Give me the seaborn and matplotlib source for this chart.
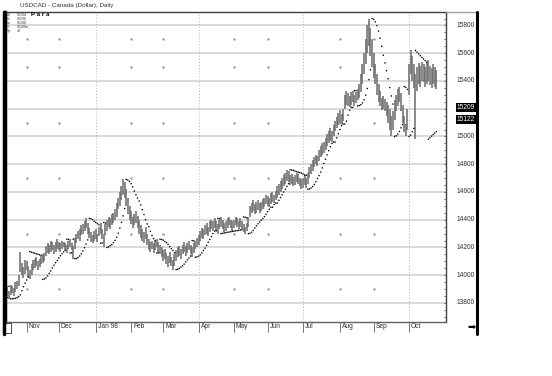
import numpy as np
import pandas as pd
import seaborn as sns
import matplotlib.pyplot as plt
import matplotlib.transforms as mtrans
from matplotlib.lines import Line2D

# daily bars, USDCAD x 10000, weekdays from 15 Oct 1997
dates = pd.bdate_range("1997-10-15", periods=269)

lows = [13840, 13850, 13830, 13860, 13870, 13850, 13880, 13900, 13920, 14020,
        14000, 13980, 14010, 14040, 13990, 13970, 14000, 14040, 14050, 14070,
        14040, 14060, 14080, 14090, 14100, 14140, 14160, 14150, 14170, 14180,
        14150, 14170, 14190, 14180, 14170, 14190, 14200, 14180, 14160, 14190,
        14200, 14180, 14120, 14190, 14230, 14260, 14250, 14290, 14300, 14320,
        14340, 14300, 14270, 14240, 14230, 14250, 14260, 14240, 14280, 14300,
        14260, 14200, 14290, 14320, 14350, 14330, 14360, 14380, 14400, 14420,
        14480, 14500, 14540, 14580, 14560, 14500, 14440, 14400, 14370, 14340,
        14360, 14380, 14340, 14300, 14270, 14250, 14230, 14260, 14220, 14180,
        14170, 14190, 14160, 14180, 14200, 14170, 14150, 14130, 14100, 14120,
        14080, 14060, 14090, 14070, 14040, 14070, 14100, 14130, 14140, 14120,
        14150, 14170, 14140, 14160, 14180, 14150, 14130, 14160, 14190, 14200,
        14220, 14250, 14270, 14260, 14290, 14300, 14280, 14310, 14330, 14320,
        14340, 14320, 14300, 14330, 14350, 14330, 14310, 14320, 14340, 14360,
        14340, 14320, 14340, 14360, 14350, 14330, 14350, 14330, 14310, 14300,
        14320, 14350, 14420, 14450, 14460, 14440, 14450, 14470, 14450, 14460,
        14480, 14490, 14510, 14500, 14490, 14510, 14530, 14520, 14540, 14560,
        14580, 14600, 14620, 14640, 14660, 14680, 14670, 14650, 14660, 14640,
        14650, 14670, 14660, 14640, 14620, 14630, 14650, 14630, 14660, 14700,
        14730, 14750, 14780, 14800, 14790, 14820, 14850, 14870, 14880, 14900,
        14930, 14950, 14970, 14960, 15000, 15040, 15060, 15080, 15100, 15090,
        15110, 15200, 15230, 15220, 15210, 15230, 15250, 15220, 15240, 15260,
        15280, 15320, 15380, 15450, 15520, 15600, 15650, 15580, 15500, 15420,
        15380, 15300, 15250, 15220, 15190, 15200, 15180, 15150, 15100, 15050,
        15000, 15050, 15120, 15180, 15220, 15250, 15180, 15100, 15030, 15000,
        15050, 15300, 15450, 15400, 15350, 14980, 15330, 15380, 15360, 15400,
        15390, 15360, 15380, 15400, 15370, 15350, 15380, 15360, 15340]

highs = [13900, 13920, 13890, 13930, 13920, 13910, 13950, 13960, 14000, 14170,
         14090, 14060, 14110, 14100, 14070, 14040, 14080, 14110, 14120, 14130,
         14100, 14120, 14140, 14150, 14160, 14210, 14230, 14220, 14250, 14240,
         14220, 14240, 14260, 14240, 14230, 14250, 14240, 14230, 14220, 14250,
         14260, 14230, 14210, 14270, 14300, 14320, 14330, 14360, 14370, 14390,
         14410, 14380, 14340, 14310, 14290, 14320, 14330, 14300, 14350, 14380,
         14330, 14300, 14370, 14400, 14420, 14410, 14440, 14450, 14480, 14520,
         14560, 14600, 14640, 14690, 14670, 14620, 14560, 14500, 14460, 14420,
         14440, 14460, 14430, 14400, 14360, 14330, 14310, 14350, 14300, 14260,
         14240, 14250, 14230, 14250, 14260, 14240, 14220, 14200, 14180, 14190,
         14160, 14140, 14170, 14130, 14110, 14150, 14180, 14200, 14210, 14190,
         14220, 14240, 14210, 14230, 14250, 14220, 14200, 14230, 14250, 14270,
         14290, 14320, 14340, 14330, 14360, 14380, 14350, 14390, 14400, 14390,
         14410, 14390, 14370, 14400, 14420, 14400, 14380, 14390, 14410, 14420,
         14400, 14390, 14400, 14420, 14410, 14390, 14410, 14390, 14370, 14350,
         14380, 14420, 14500, 14520, 14540, 14510, 14530, 14540, 14520, 14530,
         14550, 14560, 14580, 14570, 14560, 14590, 14600, 14580, 14610, 14640,
         14660, 14680, 14700, 14720, 14740, 14760, 14750, 14720, 14730, 14710,
         14720, 14740, 14730, 14700, 14690, 14700, 14720, 14700, 14740, 14780,
         14800, 14830, 14850, 14870, 14860, 14900, 14930, 14950, 14960, 14990,
         15020, 15040, 15060, 15040, 15080, 15110, 15140, 15170, 15190, 15160,
         15200, 15300, 15330, 15310, 15290, 15320, 15330, 15300, 15320, 15340,
         15380, 15450, 15520, 15600, 15700, 15800, 15850, 15780, 15700, 15600,
         15520, 15450, 15380, 15330, 15280, 15290, 15270, 15250, 15230, 15200,
         15150, 15180, 15260, 15300, 15340, 15360, 15310, 15230, 15150, 15090,
         15200, 15520, 15620, 15580, 15520, 15450, 15500, 15530, 15510, 15540,
         15520, 15500, 15530, 15550, 15510, 15490, 15520, 15500, 15480]

price_ticks = [13800, 14000, 14200, 14400, 14600, 14800, 15000, 15200, 15400, 15600, 15800]
month_labels = ["Nov", "Dec", "Jan 98", "Feb", "Mar", "Apr", "May", "Jun", "Jul", "Aug", "Sep", "Oct"]
month_starts = ["1997-11-03", "1997-12-01", "1998-01-01", "1998-02-02", "1998-03-02", "1998-04-01",
                "1998-05-01", "1998-06-01", "1998-07-01", "1998-08-03", "1998-09-01", "1998-10-01"]
last_close = 15209
last_sar = 15122
info_keys = ["Dt", "Hi", "Lo", "Cl", "Sp"]
info_vals = ["15194", "15236", "15180", "15209a", "+8"]


def parabolic_sar(high, low, step=0.02, max_af=0.2):
    high = np.asarray(high, float)
    low = np.asarray(low, float)
    sar = np.zeros(len(high))
    up = True
    af = step
    ep = high[0]
    sar[0] = low[0]
    for i in range(1, len(high)):
        s = sar[i - 1] + af * (ep - sar[i - 1])
        if up:
            s = min(s, low[i - 1], low[max(i - 2, 0)])
            if low[i] < s:
                up, s, ep, af = False, ep, low[i], step
            elif high[i] > ep:
                ep, af = high[i], min(af + step, max_af)
        else:
            s = max(s, high[i - 1], high[max(i - 2, 0)])
            if high[i] > s:
                up, s, ep, af = True, ep, high[i], step
            elif low[i] < ep:
                ep, af = low[i], min(af + step, max_af)
        sar[i] = s
    return sar


df = pd.DataFrame({"date": dates, "low": lows, "high": highs})
df["i"] = np.arange(len(df))
df["sar"] = parabolic_sar(df["high"], df["low"])
month_pos = [int(np.searchsorted(dates, pd.Timestamp(m))) for m in month_starts]

sns.set_style("white")
plt.rcParams["font.family"] = ["Liberation Sans", "DejaVu Sans"]

W, H = 552, 376
fig = plt.figure(figsize=(W / 100, H / 100), dpi=100)
ax = fig.add_axes([5 / W, 1 - 322 / H, (446 - 5) / W, (322 - 12) / H])
ax.set_xlim(-0.5, 274)
ax.set_ylim(13663, 15897)

# grid
for p in price_ticks:
    ax.axhline(p, color="#d9d9d9", lw=1.4, zorder=0)
for k, m in enumerate(month_pos):
    if month_labels[k] in ("Jan 98", "Apr", "Jul", "Oct"):
        ax.axvline(m, color="#b4b4b4", lw=0.7, ls=(0, (1, 2)), zorder=0)
    else:
        ax.scatter([m] * 6, [13900 + 400 * j for j in range(5)] + [15700],
                   s=0.6, color="#9a9a9a", zorder=0)

# bars and parabolic SAR dots
ax.vlines(df["i"], df["low"], df["high"], color="#6a6a6a", lw=1.1, zorder=2)
sns.scatterplot(data=df.iloc[1:], x="i", y="sar", ax=ax, s=1.2, color="black",
                edgecolor="none", zorder=3, legend=False)

ax.set_xticks([])
ax.set_yticks([])
ax.set_xlabel("")
ax.set_ylabel("")
for side in ("top", "right"):
    ax.spines[side].set_color("#404040")
    ax.spines[side].set_linewidth(1.0)
ax.spines["bottom"].set_color("#606060")
ax.spines["bottom"].set_linewidth(1.0)
ax.spines["left"].set_color("black")
ax.spines["left"].set_linewidth(2.5)

# right price scale
tr = mtrans.blended_transform_factory(fig.transFigure, ax.transData)
for p in price_ticks:
    ax.text(475 / W, p, str(p), transform=tr, ha="right", va="center", fontsize=4.8,
            color="#303030", clip_on=False)
for p in (last_close, last_sar):
    ax.text(475 / W, p, str(p), transform=tr, ha="right", va="center", fontsize=4.8,
            color="white", clip_on=False,
            bbox=dict(boxstyle="square,pad=0.15", fc="black", ec="none"))
for p in np.arange(13700, 15900, 50):
    ax.plot([444 / W, 446 / W], [p, p], transform=tr, color="#505050", lw=0.5, clip_on=False)

# month labels
trx = mtrans.blended_transform_factory(ax.transData, fig.transFigure)
for m, lab in zip(month_pos, month_labels):
    ax.plot([m, m], [1 - 322 / H, 1 - 332 / H], transform=trx, color="#606060", lw=0.6, clip_on=False)
    ax.text(m + 1.2, 1 - 327 / H, lab, transform=trx, ha="left", va="center", fontsize=4.8,
            color="#303030", clip_on=False)

# frame pieces around chart
fig.add_artist(Line2D([446 / W, 477 / W], [1 - 12 / H, 1 - 12 / H], color="#a0a0a0", lw=1.0))
fig.add_artist(Line2D([477 / W, 477 / W], [1 - 12 / H, 1 - 334 / H], color="black", lw=2.2))
fig.add_artist(Line2D([4 / W, 4 / W], [1 - 12 / H, 1 - 334 / H], color="black", lw=2.5))
fig.add_artist(plt.Rectangle((5 / W, 1 - 333 / H), 6 / W, 10 / H, fill=False, ec="#303030", lw=0.6))
fig.text(472 / W, 1 - 327 / H, "\u27a1", fontsize=7, color="black", ha="center", va="center",
         family=["DejaVu Sans"])

# header
fig.text(67 / W, 1 - 5 / H, "USDCAD - Canada (Dollar), Daily", fontsize=4.5, ha="center",
         va="center", color="#303030")
for k, (a, b) in enumerate(zip(info_keys, info_vals)):
    fig.text(7 / W, 1 - (15 + 4 * k) / H, a, fontsize=2.5, va="center", color="#303030")
    fig.text(17 / W, 1 - (15 + 4 * k) / H, b, fontsize=2.5, va="center", ha="left", color="#303030")
fig.text(31 / W, 1 - 15 / H, "P a r a", fontsize=4.5, fontweight="bold", va="center", color="black")

fig.savefig("out.png", dpi=100)
